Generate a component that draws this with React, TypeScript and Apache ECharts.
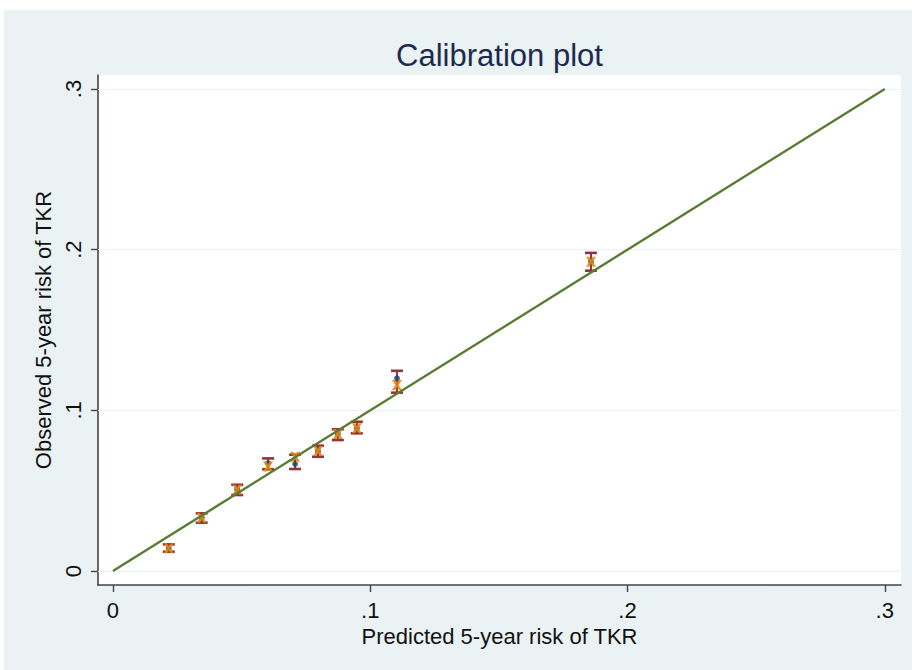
import React, { useEffect, useRef } from "react";
import * as echarts from "echarts";

const predicted = [0.0217, 0.0345, 0.0483, 0.0603, 0.0708, 0.0797, 0.0874, 0.0948, 0.1104, 0.1858];
const observed = [0.0141, 0.0332, 0.0508, 0.0670, 0.0666, 0.0747, 0.0853, 0.0888, 0.1199, 0.1925];
const ciLow = [0.0120, 0.0301, 0.0473, 0.0633, 0.0635, 0.0711, 0.0815, 0.0857, 0.1110, 0.1869];
const ciHigh = [0.0166, 0.0359, 0.0537, 0.0701, 0.0724, 0.0780, 0.0882, 0.0929, 0.1246, 0.1980];
const secondary = [0.0141, 0.0332, 0.0508, 0.0650, 0.0711, 0.0747, 0.0853, 0.0888, 0.1158, 0.1925];
const refLine = [[0, 0], [0.3, 0.3]];
const ticks = [0, 0.1, 0.2, 0.3];

const fmt = (v: number) => (Math.abs(v) < 1e-9 ? "0" : "." + Math.round(v * 10));
const FONT = "'Liberation Sans', Arial, sans-serif";
const XPATH = "path://M0,0 L3,0 L5,2.6 L7,0 L10,0 L6.6,5 L10,10 L7,10 L5,7.4 L3,10 L0,10 L3.4,5 Z";

export default function App() {
  const ref = useRef<HTMLDivElement>(null);
  useEffect(() => {
    const chart = echarts.init(ref.current!, null, { renderer: "svg" });
    const axisCommon = {
      type: "value" as const,
      axisLine: { show: true, onZero: false, lineStyle: { color: "#444", width: 1.6 } },
      axisTick: { show: true, length: 7, customValues: ticks, lineStyle: { color: "#444", width: 1.4 } },
      splitLine: { show: false },
      nameLocation: "middle" as const,
      nameTextStyle: { fontFamily: FONT, fontSize: 22, color: "#111" },
    };
    chart.setOption({
      animation: false,
      backgroundColor: "#ffffff",
      graphic: [
        { type: "rect", z: -10, shape: { x: 4, y: 10, width: 908, height: 660 }, style: { fill: "#eaf2f3" } },
        {
          type: "text", x: 499.5, y: 55,
          style: { text: "Calibration plot", fontFamily: FONT, fontSize: 31, fill: "#1e2a4e", align: "center", verticalAlign: "middle" },
        },
      ],
      grid: { left: 98, top: 75, width: 803, height: 510, show: true, backgroundColor: "#ffffff", borderWidth: 0 },
      xAxis: {
        ...axisCommon,
        min: -0.0058,
        max: 0.3063,
        name: "Predicted 5-year risk of TKR",
        nameGap: 38,
        axisLabel: { customValues: ticks, formatter: fmt, margin: 14, fontFamily: FONT, fontSize: 22, color: "#111" },
      },
      yAxis: {
        ...axisCommon,
        min: -0.0087,
        max: 0.3087,
        name: "Observed 5-year risk of TKR",
        nameGap: 44,
        nameRotate: 90,
        axisLabel: { customValues: ticks, formatter: fmt, rotate: 90, margin: 14, fontFamily: FONT, fontSize: 22, color: "#111" },
      },
      series: [
        {
          type: "custom",
          name: "CI",
          z: 2,
          encode: { x: 0, y: [1, 2] },
          data: predicted.map((p, i) => [p, ciLow[i], ciHigh[i]]),
          renderItem: (params: any, api: any) => {
            const x = api.value(0);
            const lo = api.coord([x, api.value(1)]);
            const hi = api.coord([x, api.value(2)]);
            const w = 6;
            const st = { stroke: "#90353b", lineWidth: 2.6 };
            return {
              type: "group",
              children: [
                { type: "line", shape: { x1: lo[0], y1: lo[1], x2: hi[0], y2: hi[1] }, style: { stroke: "#90353b", lineWidth: 2 } },
                { type: "line", shape: { x1: lo[0] - w, y1: lo[1], x2: lo[0] + w, y2: lo[1] }, style: st },
                { type: "line", shape: { x1: hi[0] - w, y1: hi[1], x2: hi[0] + w, y2: hi[1] }, style: st },
              ],
            };
          },
        },
        {
          type: "scatter",
          z: 3,
          symbol: "circle",
          symbolSize: 6,
          itemStyle: { color: "#1a476f" },
          data: predicted.map((p, i) => [p, observed[i]]),
        },
        {
          type: "scatter",
          z: 4,
          symbol: XPATH,
          symbolSize: 10,
          itemStyle: { color: "#e8850a", opacity: 0.9 },
          data: predicted.map((p, i) => [p, secondary[i]]),
        },
        {
          type: "line",
          z: 5,
          symbol: "none",
          lineStyle: { color: "#5a7c32", width: 2.4 },
          data: refLine,
          markLine: {
            silent: true,
            symbol: "none",
            label: { show: false },
            z: 1,
            lineStyle: { color: "#eaf2f3", width: 1.2, type: "solid" },
            data: ticks.map((t) => ({ yAxis: t })),
          },
        },
      ],
    });
    return () => chart.dispose();
  }, []);
  return <div ref={ref} style={{ position: "fixed", left: 0, top: 0, width: 912, height: 670 }} />;
}
